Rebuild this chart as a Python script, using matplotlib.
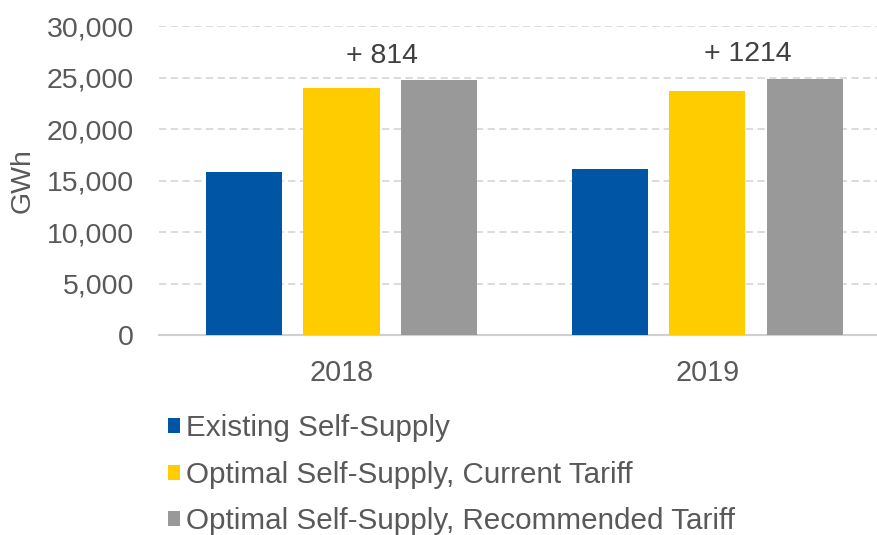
import matplotlib
matplotlib.use("Agg")
import matplotlib.pyplot as plt
import numpy as np

plt.rcParams['font.family'] = ['Liberation Sans', 'DejaVu Sans']

years = ["2018", "2019"]
series_names = ["Existing Self-Supply",
                "Optimal Self-Supply, Current Tariff",
                "Optimal Self-Supply, Recommended Tariff"]
existing = [15850, 16100]
current = [23940, 23670]
recommended = [24754, 24884]
deltas = ["+ 814", "+ 1214"]
yticks = [0, 5000, 10000, 15000, 20000, 25000, 30000]

colors = ["#0055A5", "#FFCC00", "#999999"]
text_color = "#595959"

fig = plt.figure(figsize=(8.77, 5.35), dpi=100)
ax = fig.add_axes([0.1813, 0.3738, 0.8187, 0.5776])

x = np.arange(len(years))
width = 0.208
offset = 0.267
for i, (vals, c, name) in enumerate(zip([existing, current, recommended], colors, series_names)):
    ax.bar(x + (i - 1) * offset, vals, width, color=c, label=name, zorder=3)

for xi, d, top in zip(x, deltas, recommended):
    ax.text(xi + 0.112, top + 2380, d, ha='center', va='center',
            fontsize=20.5, color="#404040")

ax.set_ylim(0, 30000)
ax.set_xlim(-0.499, 1.464)
ax.set_yticks(yticks)
ax.set_yticklabels([f"{v:,}" for v in yticks])
ax.set_xticks(x)
ax.set_xticklabels(years)
ax.tick_params(axis='y', length=0, pad=18, labelsize=20.5, labelcolor=text_color)
ax.tick_params(axis='x', length=0, pad=17, labelsize=20.7, labelcolor=text_color)
ax.yaxis.grid(True, color="#d9d9d9", linestyle=(0, (4, 2.5)), linewidth=1.3, zorder=0)
ax.set_axisbelow(True)
for s in ["top", "right", "left"]:
    ax.spines[s].set_visible(False)
ax.spines["bottom"].set_color("#d0d0d0")
ax.spines["bottom"].set_linewidth(1.5)
ax.set_ylabel("GWh", fontsize=20.5, color=text_color, labelpad=8)

handles, labels = ax.get_legend_handles_labels()
leg = fig.legend(handles, labels, loc='upper left', bbox_to_anchor=(0.191, 0.226),
                 frameon=False, fontsize=21.3, handlelength=0.42, handleheight=0.42,
                 handletextpad=0.22, labelspacing=0.63, borderaxespad=0, borderpad=0)
for t in leg.get_texts():
    t.set_color(text_color)

fig.savefig("out.png", dpi=100)
